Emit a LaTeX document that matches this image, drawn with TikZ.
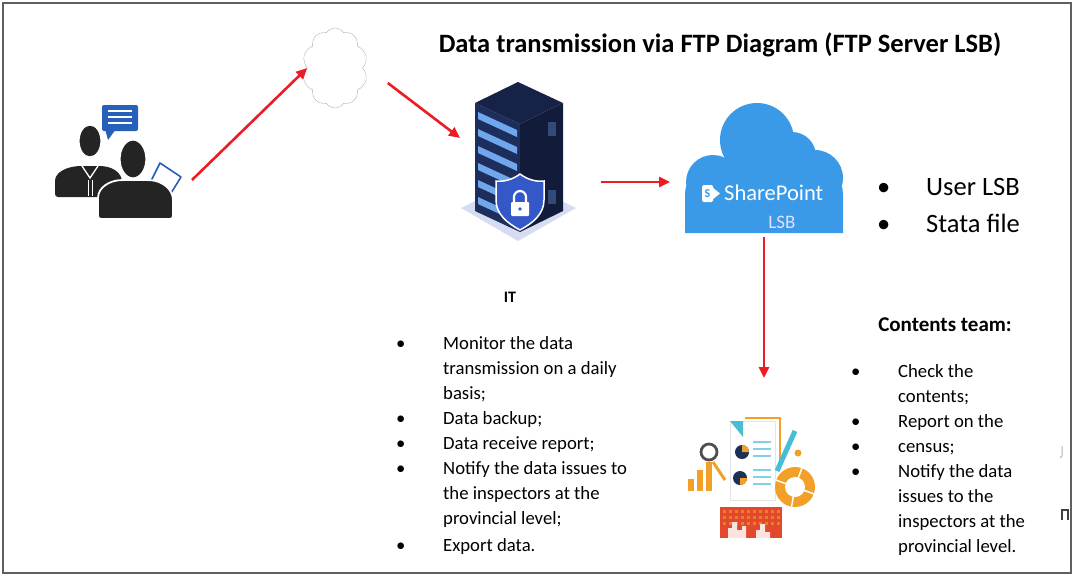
\documentclass[tikz,border=0pt]{standalone}
\usepackage{fontspec}
\setmainfont{Carlito}
\usetikzlibrary{arrows.meta,calc,shapes.symbols}
\definecolor{arrowred}{RGB}{236,28,36}
\definecolor{framegray}{RGB}{95,95,95}
\definecolor{iconblack}{RGB}{36,36,36}
\definecolor{chatblue}{RGB}{38,96,186}
\definecolor{cloudgray}{RGB}{168,180,190}
\definecolor{towertop}{RGB}{22,34,70}
\definecolor{towerleft}{RGB}{30,46,92}
\definecolor{towerright}{RGB}{18,28,58}
\definecolor{stripeblue}{RGB}{112,166,236}
\definecolor{shieldblue}{RGB}{52,88,200}
\definecolor{baselilac}{RGB}{214,220,242}
\definecolor{spblue}{RGB}{58,154,232}
\definecolor{reportorange}{RGB}{243,160,40}
\definecolor{reportred}{RGB}{226,72,44}
\definecolor{reportnavy}{RGB}{28,48,88}
\definecolor{reportcyan}{RGB}{72,190,214}
\newcommand{\bul}{\textbullet}

\begin{document}
\begin{tikzpicture}[x=1pt,y=-1pt,
		flow/.style={arrowred, line width=2.6pt, -{Triangle[length=11pt,width=10pt]}},
		iconbox/.style={inner sep=0pt, outer sep=0pt},
		listtext/.style={anchor=north west, inner sep=0pt, align=left}]
	\useasboundingbox (0,0) rectangle (1074,576);
	
	% Frame and title
	\draw[framegray, line width=2.4pt] (3,3) rectangle (1071,573);
	\node[font=\bfseries\fontsize{26.5}{30}\selectfont] (title) at (720,45) {Data transmission via FTP Diagram (FTP Server LSB)};
	
	% Icon boxes
	\node[iconbox, minimum width=144pt, minimum height=160pt] (people) at (120,180) {};
	\node[cloud, cloud puffs=10, cloud puff arc=115, aspect=0.8, draw=cloudgray, thin,
		minimum width=65pt, minimum height=80pt, inner sep=0pt] (netcloud) at (335,68) {};
	\node[iconbox, minimum width=114pt, minimum height=160pt] (server) at (520,160) {};
	\node[iconbox, minimum width=164pt, minimum height=110pt] (sharepoint) at (764,182) {};
	\node[iconbox, minimum width=132pt, minimum height=182pt] (report) at (752,469) {};
	
	% People
	\fill[chatblue, rounded corners=2pt] (102,105) rectangle (138,131);
	\fill[chatblue] (105,129) -- (108,140) -- (116,129) -- cycle;
	\foreach \yy in {111,117,123}
		\draw[white, line width=1.8pt] (108,\yy) -- (132,\yy);
	\fill[iconblack, rounded corners=3pt] (55,197) -- (55,184) .. controls (55,172) and (67,167) .. (80,166) -- (100,166) .. controls (113,167) and (122,173) .. (122,185) -- (122,197) -- cycle;
	\draw[white, line width=1.3pt] (82,166) -- (90,178) -- (98,166);
	\draw[white, line width=1pt] (88,180) -- (88,196) (92,180) -- (92,196);
	\fill[iconblack, draw=white, line width=1.2pt] (90,141) ellipse (11 and 16);
	\draw[chatblue, line width=1.6pt, line join=round] (160,163) -- (181,177) -- (168,198) -- (149,185) -- cycle;
	\fill[iconblack, draw=white, line width=1.8pt, rounded corners=3pt] (98,219) -- (98,201) .. controls (98,187) and (110,181) .. (122,180) -- (148,180) .. controls (162,181) and (173,189) .. (173,203) -- (173,219) -- cycle;
	\fill[iconblack, draw=white, line width=1.2pt] (133,159) ellipse (13 and 19);
	
	% Server with shield
	\fill[baselilac] (461,208) -- (518,180) -- (576,208) -- (518,241) -- cycle;
	\fill[towerleft] (475,103) -- (520,124) -- (520,232) -- (475,211) -- cycle;
	\fill[towerright] (520,124) -- (563,103) -- (563,211) -- (520,232) -- cycle;
	\fill[towertop] (475,103) -- (518,82) -- (563,103) -- (520,124) -- cycle;
	\foreach \i in {0,...,5}
		\fill[stripeblue] (478,112+17*\i) -- (517,130+17*\i) -- (517,137+17*\i) -- (478,119+17*\i) -- cycle;
	\fill[towertop!70!stripeblue] (548,122) rectangle (556,136);
	\fill[towertop!70!stripeblue] (548,190) rectangle (556,204);
	\fill[shieldblue, draw=white, line width=1.5pt] (520,174) .. controls (528,180) and (537,182) .. (544,181) -- (544,200) .. controls (544,214) and (533,223) .. (520,230) .. controls (507,223) and (496,214) .. (496,200) -- (496,181) .. controls (503,182) and (512,180) .. (520,174) -- cycle;
	\draw[white, line width=2.2pt] (514,203) -- (514,197) arc (180:360:6) -- (526,203);
	\fill[white, rounded corners=1pt] (511,202) rectangle (529,216);
	\fill[shieldblue] (520,209) circle (1.8);
	
	% SharePoint cloud
	\fill[spblue] (685,233) [rounded corners=26pt] -- (685,168) -- (843,168) [sharp corners] -- (843,233) -- cycle;
	\fill[spblue] (685,205) rectangle (843,233);
	\fill[spblue] (757,140) circle (37);
	\fill[spblue] (713,182) circle (27);
	\fill[spblue] (815,178) circle (28);
	\fill[spblue] (792,156) circle (24);
	\fill[white, rounded corners=1.5pt] (702,185) rectangle (713,202);
	\fill[white] (712,187) -- (720,193.5) -- (712,200) -- cycle;
	\node[text=spblue, font=\bfseries\fontsize{12}{12}\selectfont, inner sep=0pt] (splogo) at (707.5,193.5) {S};
	\node[text=white, font=\fontsize{22.5}{22}\selectfont, anchor=west, inner sep=0pt] (spname) at (724,193) {SharePoint};
	\node[text=blue!12!white, font=\fontsize{19}{19}\selectfont, inner sep=0pt] (spsite) at (782,222) {LSB};
	
	% Report icon
	\draw[reportorange, line width=2.2pt] (745,418) -- (780,418) -- (780,468);
	\fill[white, draw=black!10] (730,421) rectangle (775,500);
	\fill[reportcyan] (730,421) -- (743,421) -- (743,437) -- cycle;
	\fill[reportnavy] (742,452) circle (7);
	\fill[reportorange] (742,452) -- (742,445) arc (270:360:7) -- cycle;
	\fill[reportnavy] (740,478) circle (7);
	\fill[reportorange] (740,478) -- (747,478) arc (0:90:7) -- cycle;
	\foreach \yy in {442,449,456,470,477,484}
		\draw[reportcyan!70, line width=1.6pt] (753,\yy) -- (771,\yy);
	\fill[reportorange] (795,487) circle (20);
	\fill[white] (795,487) circle (10);
	\foreach \a in {20,100,200,290}
		\draw[white, line width=1.5pt] (795,487) -- ++(\a:21);
	\fill[reportorange] (798,453) circle (3.5);
	\draw[reportcyan, line width=5pt] (795,431) -- (777,471);
	\draw[reportorange, line width=3pt] (713,462) -- (725,480);
	\draw[iconblack!80, line width=2.8pt] (709,452) circle (8);
	\fill[reportorange] (688,479) rectangle (694,491);
	\fill[reportorange] (697,470) rectangle (703,491);
	\fill[reportorange] (706,462) rectangle (712,491);
	\fill[reportred] (720,507) rectangle (782,538);
	\foreach \xx in {723,729,...,777}
		\foreach \yy in {510,516,522}
			\fill[reportorange!60!reportred] (\xx,\yy) rectangle ++(3,3);
	\fill[white!85!reportred] (728,538) -- (728,528) -- (732,528) -- (732,522) -- (737,522) -- (737,530) -- (742,530) -- (742,526) -- (746,526) -- (746,538) -- cycle;
	\fill[white!85!reportred] (756,538) -- (756,530) -- (760,530) -- (760,524) -- (765,524) -- (765,532) -- (770,532) -- (770,538) -- cycle;
	
	% Flow arrows
	\draw[flow] (people.east) -- (netcloud.west);
	\draw[flow] ($(netcloud.east)+(25,15)$) -- ($(server.west)+(-3,-22)$);
	\draw[flow] ($(server.east)+(24,22)$) -- ($(sharepoint.west)+(-12,0)$);
	\draw[flow] (sharepoint.south) -- (sharepoint.south |- report.north);
	
	% Stored items
	\node[listtext, font=\fontsize{26.5}{37}\selectfont] (store) at (877,169) {%
		\begin{tabular}{@{}p{49pt}@{}l@{}}
			\bul & User LSB\\
			\bul & Stata file
	\end{tabular}};
	
	% IT tasks
	\node[font=\bfseries\fontsize{16}{18}\selectfont] (ithead) at (510,297) {IT};
	\node[listtext, font=\fontsize{18.7}{25}\selectfont] (itlist) at (396,332) {%
		\begin{tabular}{@{}p{47pt}@{}l@{}}
			\bul & Monitor the data\\
			& transmission on a daily\\
			& basis;\\
			\bul & Data backup;\\
			\bul & Data receive report;\\
			\bul & Notify the data issues to\\
			& the inspectors at the\\
			& provincial level;\\[1.5pt]
			\bul & Export data.
	\end{tabular}};
	
	% Contents team tasks
	\node[font=\bfseries\fontsize{21}{24}\selectfont] (cthead) at (945,325) {Contents team:};
	\node[listtext, font=\fontsize{18.7}{25}\selectfont] (ctlist) at (851,360) {%
		\begin{tabular}{@{}p{47pt}@{}l@{}}
			\bul & Check the\\
			& contents;\\
			\bul & Report on the\\
			\bul & census;\\
			\bul & Notify the data\\
			& issues to the\\
			& inspectors at the\\
			& provincial level.
	\end{tabular}};
	
	% stray marks by the right edge
	\draw[gray!60, line width=1pt] (1062,446) -- (1062,456) -- (1060,458);
	\draw[black!75, line width=1.4pt] (1062,520) -- (1062,510) -- (1068,510) -- (1068,520);
\end{tikzpicture}
\end{document}
